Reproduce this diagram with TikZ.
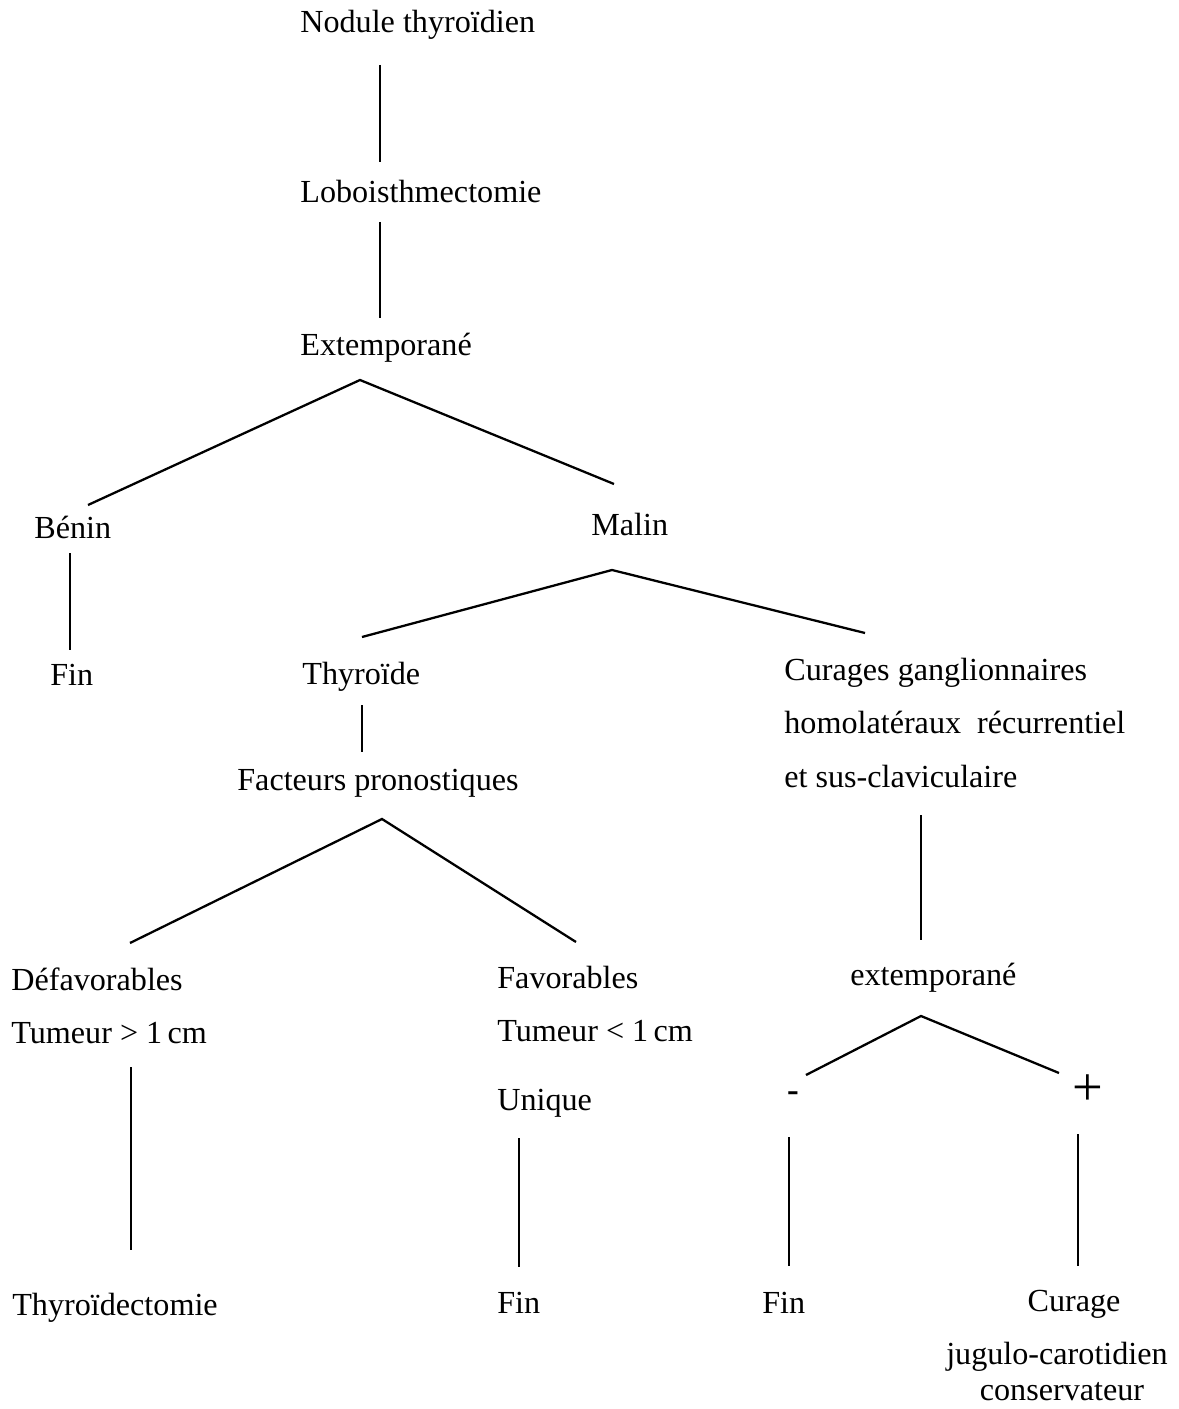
\documentclass[tikz,border=0pt]{standalone}
\usepackage{fontspec}
\setmainfont{Liberation Serif}
\begin{document}
\begin{tikzpicture}[x=0.02cm,y=-0.02cm,
  txt/.style={inner sep=0pt, anchor=base west, font=\fontsize{18.3}{22}\selectfont},
  ctxt/.style={inner sep=0pt, anchor=base, font=\fontsize{18.3}{22}\selectfont},
  link/.style={line width=1.3pt}]
\useasboundingbox (0,0) rectangle (1178,1409);
% texts
\node[txt] (nod) at (300,33) {Nodule thyroïdien};
\node[txt] (lob) at (300,203) {Loboisthmectomie};
\node[txt] (ext) at (300,355) {Extemporané};
\node[txt] (ben) at (34,538) {Bénin};
\node[txt] (mal) at (591,535) {Malin};
\node[txt] (fin1) at (50,685) {Fin};
\node[txt] (thy) at (302,684) {Thyroïde};
\node[txt] (cur1) at (784,680) {Curages ganglionnaires};
\node[txt] (cur2) at (784,733) {homolatéraux\ \ récurrentiel};
\node[txt] (cur3) at (784,787) {et sus-claviculaire};
\node[txt] (fac) at (237,790) {Facteurs pronostiques};
\node[txt] (def) at (11,990) {Défavorables};
\node[txt] (tum1) at (11,1043) {Tumeur > 1\,cm};
\node[txt] (fav) at (497,988) {Favorables};
\node[txt] (tum2) at (497,1041) {Tumeur < 1\,cm};
\node[txt] (uni) at (497,1110) {Unique};
\node[txt] (ext2) at (850,985) {extemporané};
\node[inner sep=0pt, font=\bfseries\fontsize{20}{22}\selectfont] (neg) at (793,1097) {-};
\node[inner sep=0pt, font=\fontsize{31}{34}\selectfont] (pos) at (1088,1090) {+};
\node[txt] (tde) at (12,1315) {Thyroïdectomie};
\node[txt] (fin2) at (497,1313) {Fin};
\node[txt] (fin3) at (762,1313) {Fin};
\node[ctxt] (cg1) at (1074,1311) {Curage};
\node[ctxt] (cg2) at (1057,1364) {jugulo-carotidien};
\node[ctxt] (cg3) at (1062,1400) {conservateur};
% connector end points
\coordinate (a1) at (380,65);   \coordinate (a2) at (380,162);
\coordinate (b1) at (380,222);  \coordinate (b2) at (380,318);
\coordinate (c0) at (360,380);  \coordinate (cL) at (88,505);  \coordinate (cR) at (614,484);
\coordinate (d1) at (70,553);   \coordinate (d2) at (70,650);
\coordinate (e0) at (612,570);  \coordinate (eL) at (362,637); \coordinate (eR) at (865,633);
\coordinate (f1) at (362,705);  \coordinate (f2) at (362,752);
\coordinate (g0) at (382,819);  \coordinate (gL) at (130,943); \coordinate (gR) at (576,942);
\coordinate (h1) at (921,815);  \coordinate (h2) at (921,940);
\coordinate (i0) at (921,1016); \coordinate (iL) at (806,1075); \coordinate (iR) at (1059,1073);
\coordinate (j1) at (131,1067); \coordinate (j2) at (131,1250);
\coordinate (k1) at (519,1138); \coordinate (k2) at (519,1267);
\coordinate (l1) at (789,1137); \coordinate (l2) at (789,1266);
\coordinate (m1) at (1078,1134); \coordinate (m2) at (1078,1266);
% connectors
\draw[link] (a1) -- (a2);
\draw[link] (b1) -- (b2);
\draw[link] (cL) -- (c0) -- (cR);
\draw[link] (d1) -- (d2);
\draw[link] (eL) -- (e0) -- (eR);
\draw[link] (f1) -- (f2);
\draw[link] (gL) -- (g0) -- (gR);
\draw[link] (h1) -- (h2);
\draw[link] (iL) -- (i0) -- (iR);
\draw[link] (j1) -- (j2);
\draw[link] (k1) -- (k2);
\draw[link] (l1) -- (l2);
\draw[link] (m1) -- (m2);
\end{tikzpicture}
\end{document}
